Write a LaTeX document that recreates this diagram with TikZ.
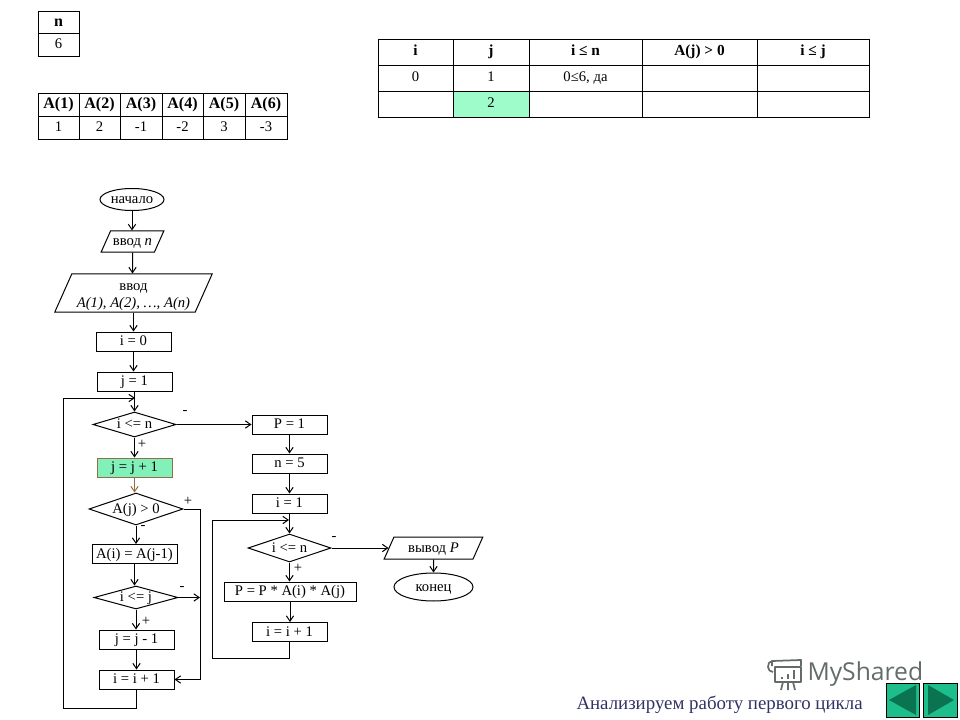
\documentclass[tikz,border=0pt]{standalone}
\usepackage{fontspec}
\setmainfont{Liberation Serif}
\newfontfamily\markfont{Open Sans}
\usetikzlibrary{shapes.geometric, arrows.meta}

\definecolor{cellgreen}{RGB}{158,252,202}
\definecolor{boxgreen}{RGB}{130,240,185}
\definecolor{boxedge}{RGB}{150,110,70}
\definecolor{btngreen}{RGB}{30,190,140}
\definecolor{btndark}{RGB}{10,115,80}
\definecolor{captionblue}{RGB}{50,50,100}
\definecolor{markgrey}{RGB}{100,108,105}

\tikzset{
  every node/.style={font=\fontsize{11}{13}\selectfont, inner sep=0pt},
  block/.style={draw, minimum width=56.25pt, minimum height=14.25pt, text height=8pt, text depth=2pt},
  cell/.style={draw, text height=7pt, text depth=2pt},
  topcell/.style={draw, text height=6pt, text depth=2pt},
  terminal/.style={draw, ellipse, text height=7pt, text depth=1pt},
  inout/.style={draw, trapezium, trapezium stretches body=true, trapezium left angle=66, trapezium right angle=114},
  branch/.style={draw, diamond, aspect=3, text height=7pt, text depth=1pt},
  sign/.style={font=\fontsize{11}{13}\selectfont}
}

\begin{document}
\begin{tikzpicture}[x=0.75pt, y=-0.75pt, line width=0.75pt, >={Straight Barb[length=4pt,width=5.5pt]}]
\useasboundingbox (0,0) rectangle (960,720);

% tables
\node[cell, minimum width=30.75pt, minimum height=16.5pt, font=\bfseries\fontsize{12}{14}\selectfont] (nhead) at (58.5,23) {n};
\node[cell, minimum width=30.75pt, minimum height=17.25pt] (nval) at (58.5,45.5) {6};

\foreach \col/\xa/\xb/\val in {1/38/79/1, 2/79/120/2, 3/120/162/-1, 4/162/203/-2, 5/203/245/3, 6/245/287/-3} {
  \node[cell, minimum width={(\xb-\xa)*0.75pt}, minimum height=17.25pt, font=\bfseries\fontsize{12}{14}\selectfont] (ahead\col) at ({(\xa+\xb)/2},105.5) {A(\col)};
  \node[cell, minimum width={(\xb-\xa)*0.75pt}, minimum height=17.25pt] (aval\col) at ({(\xa+\xb)/2},128.5) {\val};
}

\foreach \col/\xa/\xb/\head/\one in {1/378/453/i/0, 2/453/529/j/1, 3/529/642/i ≤ n/0≤6{,} да, 4/642/757/A(j) > 0/, 5/757/869/i ≤ j/} {
  \node[topcell, minimum width={(\xb-\xa)*0.75pt}, minimum height=19.5pt, font=\bfseries\fontsize{11.5}{14}\selectfont] (thead\col) at ({(\xa+\xb)/2},53) {\head};
  \node[topcell, minimum width={(\xb-\xa)*0.75pt}, minimum height=19.5pt] (tone\col) at ({(\xa+\xb)/2},79) {\one};
}
\node[topcell, minimum width=56.25pt, minimum height=19.5pt] (ttwo1) at (415.5,105) {};
\node[topcell, minimum width=57pt, minimum height=19.5pt, fill=cellgreen] (ttwo2) at (491,105) {2};
\node[topcell, minimum width=84.75pt, minimum height=19.5pt] (ttwo3) at (585.5,105) {};
\node[topcell, minimum width=86.25pt, minimum height=19.5pt] (ttwo4) at (699.5,105) {};
\node[topcell, minimum width=84pt, minimum height=19.5pt] (ttwo5) at (813,105) {};

% first column
\node[terminal, minimum width=48pt, minimum height=16.5pt] (start) at (132,199.5) {начало};
\node[inout, minimum width=47pt, text height=10.9pt, text depth=4.9pt] (readn) at (132.5,241.5) {ввод \textit{n}};
\node[inout, minimum width=118pt, text height=24pt, text depth=4.5pt] (reada) at (133.5,293) {};
\node[align=center] (readatext) at (133.5,297) {ввод\\\textit{A(1), A(2), …, A(n)}};
\node[block] (izero) at (133.5,341.5) {i = 0};
\node[block] (jone) at (134.5,381.5) {j = 1};
\node[branch, minimum width=62.25pt, minimum height=18.75pt] (cmpn) at (134.5,424.5) {i <= n};
\node[block, fill=boxgreen, draw=boxedge] (jinc) at (134.5,467.5) {j = j + 1};
\node[branch, minimum width=70.5pt, minimum height=24pt] (cmpa) at (136,509) {A(j) > 0};
\node[block, minimum width=63.75pt] (assign) at (134.5,554) {A(i) = A(j-1)};
\node[branch, minimum width=63pt, minimum height=17.25pt] (cmpj) at (136,597.5) {i <= j};
\node[block] (jdec) at (136.5,639.5) {j = j - 1};
\node[block] (iinc) at (136.5,679.5) {i = i + 1};

% second column
\node[block] (pone) at (289.5,424.5) {P = 1};
\node[block] (nfive) at (289.5,463.5) {n = 5};
\node[block] (ione) at (289.5,503.5) {i = 1};
\node[branch, minimum width=62.25pt, minimum height=21pt] (cmpk) at (289.5,548) {i <= n};
\node[block, minimum width=99pt] (prod) at (290,591.5) {P = P * A(i) * A(j)};
\node[block] (inext) at (289.5,632) {i = i + 1};
\node[inout, minimum width=74pt, text height=11.25pt, text depth=5.25pt] (output) at (433.5,548) {вывод \textit{P}};
\node[terminal, minimum width=59.25pt, minimum height=21pt] (finish) at (433.5,587) {конец};

% free ends of the loops
\coordinate (loopa) at (135,398);
\coordinate (loopb) at (63,708);
\coordinate (loopc) at (289,520);
\coordinate (loopd) at (212,658);
\coordinate (sidea) at (200,509);

% connectors
\draw[->] (start) -- (start |- readn.north);
\draw[->] (readn) -- (readn |- reada.north);
\draw[->] (reada) -- (reada |- izero.north);
\draw[->] (izero) -- (izero |- jone.north);
\draw[->] (jone) -- (jone |- cmpn.north);
\draw[->] (cmpn) -- (cmpn |- jinc.north);
\draw[->, draw=boxedge] (jinc) -- (jinc |- cmpa.north);
\draw[->] (cmpa) -- (cmpa |- assign.north);
\draw[->] (assign) -- (assign |- cmpj.north);
\draw[->] (cmpj) -- (cmpj |- jdec.north);
\draw[->] (jdec) -- (jdec |- iinc.north);
\draw[->] (iinc) |- (loopb) |- (loopa);
\draw[->] (cmpa.east) -- (sidea) |- (iinc.east);
\draw[->] (cmpj.east) -- (cmpj.east -| sidea);
\draw[->] (cmpn.east) -- (pone.west);

\draw[->] (pone) -- (pone |- nfive.north);
\draw[->] (nfive) -- (nfive |- ione.north);
\draw[->] (ione) -- (ione |- cmpk.north);
\draw[->] (cmpk) -- (cmpk |- prod.north);
\draw[->] (prod) -- (prod |- inext.north);
\draw (inext) |- (loopd);
\draw[->] (loopd) |- (loopc);
\draw[->] (cmpk.east) -- (output.west);
\draw[->] (output) -- (output |- finish.north);

% branch signs
\node[sign] (signa) at (185,412) {-};
\node[sign] (signb) at (142,444) {+};
\node[sign] (signc) at (188,501) {+};
\node[sign] (signd) at (143,527) {-};
\node[sign] (signe) at (182,588) {-};
\node[sign] (signf) at (146,621) {+};
\node[sign] (signg) at (334,538) {-};
\node[sign] (signh) at (298,568) {+};

% watermark and buttons
\node[font=\markfont\fontsize{18.5}{22}\selectfont, text=markgrey, anchor=west] (mark) at (807,674) {MyShared};
\begin{scope}[draw=markgrey, line width=1.3pt, line join=round]
  \draw (772,666) -- (772,661) -- (801,660) -- (801,666);
  \draw (772,661) to[out=180,in=90] (768,667) to[out=-90,in=180] (773,672);
  \draw (775,667) -- (801,667) -- (801,682) -- (775,682) -- cycle;
  \draw (781,690) -- (783,682) (795,690) -- (793,682) (788,690) -- (788,682);
  \draw[line width=2pt] (782,679) -- (782,677) (788,679) -- (788,674) (794,679) -- (794,670);
\end{scope}
\node[font=\fontsize{14.15}{16}\selectfont, text=captionblue, anchor=west] (caption) at (576,705) {Анализируем работу первого цикла};

\node[draw=black, fill=btngreen, minimum width=24.75pt, minimum height=25.5pt] (btnback) at (902.5,700) {};
\node[draw=black, fill=btngreen, minimum width=25.5pt, minimum height=25.5pt] (btnnext) at (940.5,700) {};
\fill[btndark] (889,700) -- (916,685) -- (916,715) -- cycle;
\fill[btndark] (954,700) -- (928,685) -- (928,715) -- cycle;
\end{tikzpicture}
\end{document}
